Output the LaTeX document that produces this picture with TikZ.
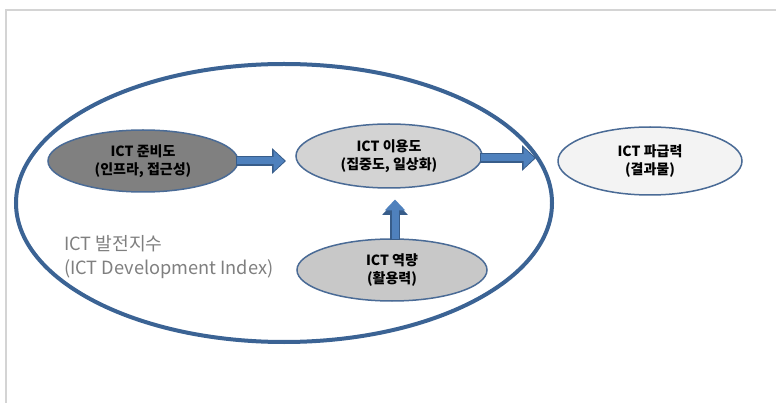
\documentclass[tikz,border=0pt]{standalone}
\usepackage{fontspec}
\setmainfont{Noto Sans CJK KR}
\newfontfamily\krfont{Noto Sans CJK KR}
\usetikzlibrary{shapes.geometric,arrows.meta}
\definecolor{bigline}{HTML}{3B6394}
\definecolor{nodeline}{HTML}{4A6B96}
\definecolor{arrfill}{HTML}{4F81BD}
\definecolor{arrline}{HTML}{385D8A}
\definecolor{framegray}{HTML}{D4D4D4}
\definecolor{labelgray}{HTML}{7F7F7F}
\tikzset{
  oval/.style={ellipse, draw=nodeline, line width=1.5pt, inner sep=0pt, align=center,
    font=\krfont\bfseries\fontsize{14}{18}\selectfont},
  bigoval/.style={ellipse, draw=bigline, line width=4pt, inner sep=0pt},
  blockarrowout/.style={draw=arrline, line width=10pt, -{Triangle[length=14pt,width=25pt]}},
  blockarrowin/.style={draw=arrfill, line width=7pt, -{Triangle[length=11pt,width=20pt]}},
}
\begin{document}
\begin{tikzpicture}[x=1pt,y=-1pt]
\useasboundingbox (0,0) rectangle (776,403);
\fill[white] (0,0) rectangle (776,403);
% frame
\draw[framegray, line width=2pt] (6,403) -- (6,10) -- (776,10);
% big ellipse
\node[bigoval, minimum width=536pt, minimum height=278pt] (big) at (284,203) {};
% nodes
\node[oval, fill={rgb,255:red,128;green,128;blue,128}, minimum width=190pt, minimum height=62pt] (n1) at (143,161) {ICT 준비도\\(인프라, 접근성)};
\node[oval, fill={rgb,255:red,211;green,211;blue,211}, minimum width=186pt, minimum height=64pt] (n2) at (389,156) {ICT 이용도\\(집중도, 일상화)};
\node[oval, fill={rgb,255:red,243;green,243;blue,243}, minimum width=184pt, minimum height=68pt] (n3) at (650,161) {ICT 파급력\\(결과물)};
\node[oval, fill={rgb,255:red,200;green,200;blue,200}, minimum width=190pt, minimum height=62pt] (n4) at (392,270) {ICT 역량\\(활용력)};
% label
\node[anchor=north west, align=left, text=labelgray, inner sep=0pt,
  font=\krfont\fontsize{18.2}{24}\selectfont] (lbl) at (64,235) {ICT 발전지수\\(ICT Development Index)};
% arrows
\coordinate (a1e) at (286,161);
\coordinate (a2e) at (536,158);
\coordinate (a3e) at (395,201);
\draw[blockarrowout] ([xshift=-3pt]n1.east) -- (a1e);
\draw[blockarrowin] ([xshift=-2pt]n1.east) -- ([xshift=-1.5pt]a1e);
\draw[blockarrowout] ([xshift=-3pt]n2.east |- a2e) -- (a2e);
\draw[blockarrowin] ([xshift=-2pt]n2.east |- a2e) -- ([xshift=-1.5pt]a2e);
\draw[blockarrowout] ([yshift=-2pt]a3e |- n4.north) -- (a3e);
\draw[blockarrowin] ([yshift=-1pt]a3e |- n4.north) -- ([yshift=1.5pt]a3e);
\end{tikzpicture}
\end{document}
